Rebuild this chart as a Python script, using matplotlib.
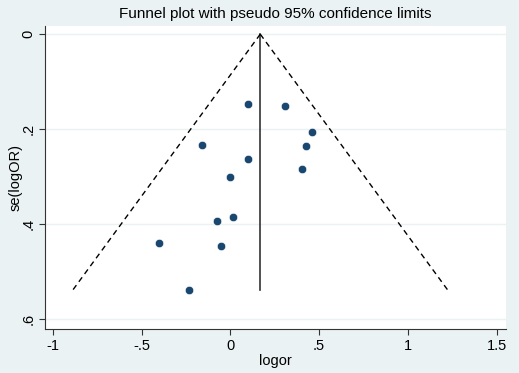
import numpy as np
import matplotlib.pyplot as plt

plt.rcParams["font.family"] = ["Liberation Sans", "DejaVu Sans"]

# =============================================================================== #
# DADOS

logor = [0.097, 0.307, 0.457, 0.427, 0.403, -0.159, 0.097, -0.001,
         0.012, -0.078, -0.401, -0.054, -0.234]
se = [0.147, 0.152, 0.206, 0.235, 0.285, 0.234, 0.262, 0.300,
      0.385, 0.394, 0.440, 0.446, 0.538]

theta = 0.168
se_max = 0.538

xticks = [-1, -0.5, 0, 0.5, 1, 1.5]
xlabels = ["-1", "-.5", "0", ".5", "1", "1.5"]
yticks = [0, 0.2, 0.4, 0.6]
ylabels = ["0", ".2", ".4", ".6"]

# =============================================================================== #
# GRAFICO

bg = "#eaf2f3"
navy = "#1a476f"

fig = plt.figure(figsize=(5.19, 3.73), dpi=100, facecolor=bg)
ax = fig.add_axes([0.0867, 0.118, 0.888, 0.812])
ax.set_facecolor("white")

for y in yticks:
    ax.axhline(y, color=bg, lw=1, zorder=0)

ax.plot([theta, theta], [0, se_max], color="#333333", lw=1.2)
ax.plot([theta, theta - 1.96 * se_max], [0, se_max], "--", color="black", lw=1, dashes=(4, 3))
ax.plot([theta, theta + 1.96 * se_max], [0, se_max], "--", color="black", lw=1, dashes=(4, 3))
ax.scatter(logor, se, s=36, color=navy, edgecolors="white", linewidths=0.4, zorder=3)

ax.set_xlim(-1.045, 1.552)
ax.set_ylim(0.621, -0.017)

ax.set_xticks(xticks)
ax.set_xticklabels(xlabels, fontsize=10.5)
ax.set_yticks(yticks)
ax.set_yticklabels(ylabels, fontsize=10.5, rotation=90, va="center")

for s in ["top", "right"]:
    ax.spines[s].set_visible(False)
ax.spines["left"].set_color("#333333")
ax.spines["bottom"].set_color("#333333")
ax.tick_params(direction="out", length=4, color="#333333", pad=3)

ax.set_xlabel("logor", fontsize=10.5, labelpad=1)
ax.set_ylabel("se(logOR)", fontsize=10.5, labelpad=-1)
ax.set_title("Funnel plot with pseudo 95% confidence limits", fontsize=11, pad=6)

fig.savefig("out.png", dpi=100, facecolor=bg)
